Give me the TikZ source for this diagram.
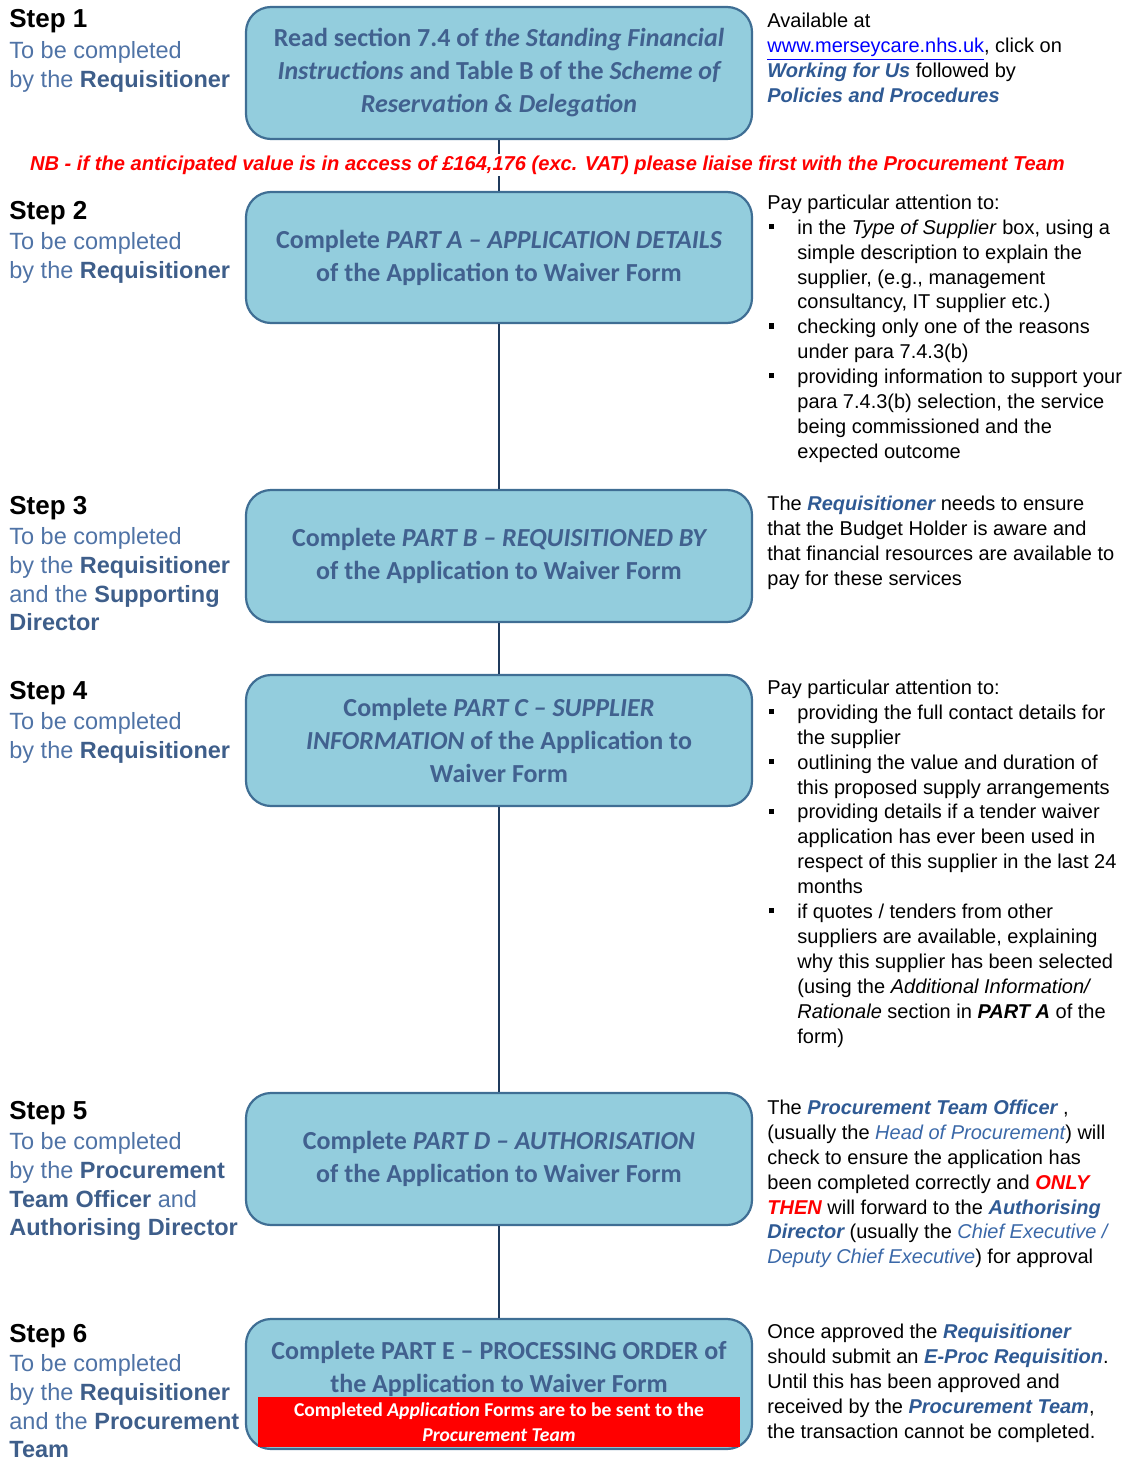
\documentclass[tikz,border=0pt]{standalone}
\usepackage{fontspec}
\setmainfont{Liberation Sans}
\newfontfamily\boxfont[Ligatures=TeX]{Carlito}
\definecolor{boxfill}{HTML}{93CDDD}
\definecolor{boxedge}{HTML}{3F6E94}
\definecolor{boxtext}{HTML}{41618F}
\definecolor{lefttext}{HTML}{4F73A6}
\definecolor{leftbold}{HTML}{3E5E8A}
\definecolor{linkblue}{HTML}{0000FF}
\definecolor{itblue}{HTML}{2F5A94}
\definecolor{ltblue}{HTML}{3A68A8}
\definecolor{connector}{HTML}{1F3A5C}
\definecolor{nbred}{HTML}{FF0000}
\newcommand\bib[1]{{\color{itblue}\bfseries\itshape #1}}
\newcommand\lib[1]{{\color{ltblue}\itshape #1}}
\newcommand\rbi[1]{{\color{nbred}\bfseries\itshape #1}}
\newcommand\lb[1]{{\color{leftbold}\bfseries #1}}
\newcommand\bul{\makebox[15pt][l]{\hspace{0.7pt}\raisebox{2.6pt}{\rule{2.6pt}{2.6pt}}}}
\newcommand\ind{\hspace*{15pt}}
\begin{document}
\begin{tikzpicture}[x=0.5pt,y=-0.5pt,
  stepbox/.style={draw=boxedge, line width=1.1pt, fill=boxfill, rounded corners=12.5pt,
    minimum width=253pt, minimum height=66pt, align=center, inner sep=0pt,
    font=\boxfont\bfseries\fontsize{13}{16.5}\selectfont, text=boxtext},
  conn/.style={draw=connector, line width=1.4pt},
  steptitle/.style={anchor=base west, inner sep=0pt, font=\bfseries\fontsize{13}{15}\selectfont, text=black},
  stepsub/.style={anchor=north west, inner sep=0pt, align=left, font=\fontsize{11.75}{14.4}\selectfont, text=lefttext},
  note/.style={anchor=north west, inner sep=0pt, align=left, font=\fontsize{10}{12.45}\selectfont, text=black}]
\useasboundingbox (0,0) rectangle (1128,1461);
% boxes
\node[stepbox] (b1) at (499,73) {Read section 7.4 of \itshape the Standing Financial\\ \itshape Instructions\upshape{} and Table B of the \itshape Scheme of\\ \itshape Reservation \& Delegation};
\node[stepbox, minimum height=65.5pt] (b2) at (499,257.5) {Complete \itshape PART A – APPLICATION DETAILS\\ of the Application to Waiver Form};
\node[stepbox] (b3) at (499,556) {Complete \itshape PART B – REQUISITIONED BY\\ of the Application to Waiver Form};
\node[stepbox, minimum height=65.5pt] (b4) at (499,740.5) {Complete \itshape PART C – SUPPLIER\\ \itshape INFORMATION\upshape{} of the Application to\\ Waiver Form};
\node[stepbox] (b5) at (499,1159) {Complete \itshape PART D – AUTHORISATION\\ of the Application to Waiver Form};
\node[stepbox, minimum height=65pt] (b6) at (499,1384) {};
\node[inner sep=0pt, align=center, font=\boxfont\bfseries\fontsize{13}{16.5}\selectfont, text=boxtext] (b6t) at (499,1368.5) {Complete PART E – PROCESSING ORDER of\\ the Application to Waiver Form};
\node[fill=nbred, minimum width=241pt, minimum height=25pt, inner sep=0pt, align=center, text=white, font=\boxfont\bfseries\fontsize{9.8}{12.8}\selectfont] (r6) at (499,1422) {Completed \itshape Application\upshape{} Forms are to be sent to the\\ \itshape Procurement Team};
% connectors
\draw[conn] (b1.south) -- (b2.north);
\draw[conn] (b2.south) -- (b3.north);
\draw[conn] (b3.south) -- (b4.north);
\draw[conn] (b4.south) -- (b5.north);
\draw[conn] (b5.south) -- (b6.north);
% NB
\node[fill=white, inner sep=1pt, text=nbred, font=\bfseries\itshape\fontsize{10.05}{11}\selectfont] (nb) at (547.5,165) {NB - if the anticipated value is in access of £164,176 (exc. VAT) please liaise first with the Procurement Team};
% left texts
\node[steptitle] (s1) at (9,28) {Step 1};
\node[stepsub] (t1) at (9,41) {To be completed\\ by the \lb{Requisitioner}};
\node[steptitle] (s2) at (9,219) {Step 2};
\node[stepsub] (t2) at (9,232) {To be completed\\ by the \lb{Requisitioner}};
\node[steptitle] (s3) at (9,514) {Step 3};
\node[stepsub] (t3) at (9,527) {To be completed\\ by the \lb{Requisitioner}\\ and the \lb{Supporting}\\ \lb{Director}};
\node[steptitle] (s4) at (9,699) {Step 4};
\node[stepsub] (t4) at (9,712) {To be completed\\ by the \lb{Requisitioner}};
\node[steptitle] (s5) at (9,1119) {Step 5};
\node[stepsub] (t5) at (9,1132) {To be completed\\ by the \lb{Procurement}\\ \lb{Team Officer} and\\ \lb{Authorising Director}};
\node[steptitle] (s6) at (9,1342) {Step 6};
\node[stepsub] (t6) at (9,1354) {To be completed\\ by the \lb{Requisitioner}\\ and the \lb{Procurement}\\ \lb{Team}};
% right notes
\node[note] (n1) at (767,12.5) {Available at\\
{\color{linkblue}\underline{www.merseycare.nhs.uk}}, click on\\
\bib{Working for Us} followed by\\
\bib{Policies and Procedures}};
\node[note] (n2) at (767,194.5) {Pay particular attention to:\\
\bul in the \textit{Type of Supplier} box, using a\\
\ind simple description to explain the\\
\ind supplier, (e.g., management\\
\ind consultancy, IT supplier etc.)\\
\bul checking only one of the reasons\\
\ind under para 7.4.3(b)\\
\bul providing information to support your\\
\ind para 7.4.3(b) selection, the service\\
\ind being commissioned and the\\
\ind expected outcome};
\node[note] (n3) at (767,495.5) {The \bib{Requisitioner} needs to ensure\\
that the Budget Holder is aware and\\
that financial  resources are available to\\
pay for these services};
\node[note] (n4) at (767,679.5) {Pay particular attention to:\\
\bul providing the full  contact details for\\
\ind the supplier\\
\bul outlining the value and duration of\\
\ind this proposed supply arrangements\\
\bul providing details if a tender waiver\\
\ind application has ever been used in\\
\ind respect of this supplier in the last 24\\
\ind months\\
\bul if quotes / tenders from other\\
\ind suppliers are available, explaining\\
\ind why this supplier has been selected\\
\ind (using the \textit{Additional Information/}\\
\ind \textit{Rationale} section in \textbf{\textit{PART A}} of the\\
\ind form)};
\node[note] (n5) at (767,1099.5) {The \bib{Procurement Team Officer} ,\\
(usually the \lib{Head of Procurement}) will\\
check to ensure the application has\\
been completed correctly and \rbi{ONLY}\\
\rbi{THEN} will forward to  the \bib{Authorising}\\
\bib{Director} (usually the \lib{Chief Executive /}\\
\lib{Deputy Chief Executive}) for approval};
\node[note] (n6) at (767,1323.5) {Once approved the \bib{Requisitioner}\\
should submit an \bib{E-Proc Requisition}.\\
Until this has been approved and\\
received by the \bib{Procurement Team},\\
the transaction cannot be completed.};
\end{tikzpicture}
\end{document}
